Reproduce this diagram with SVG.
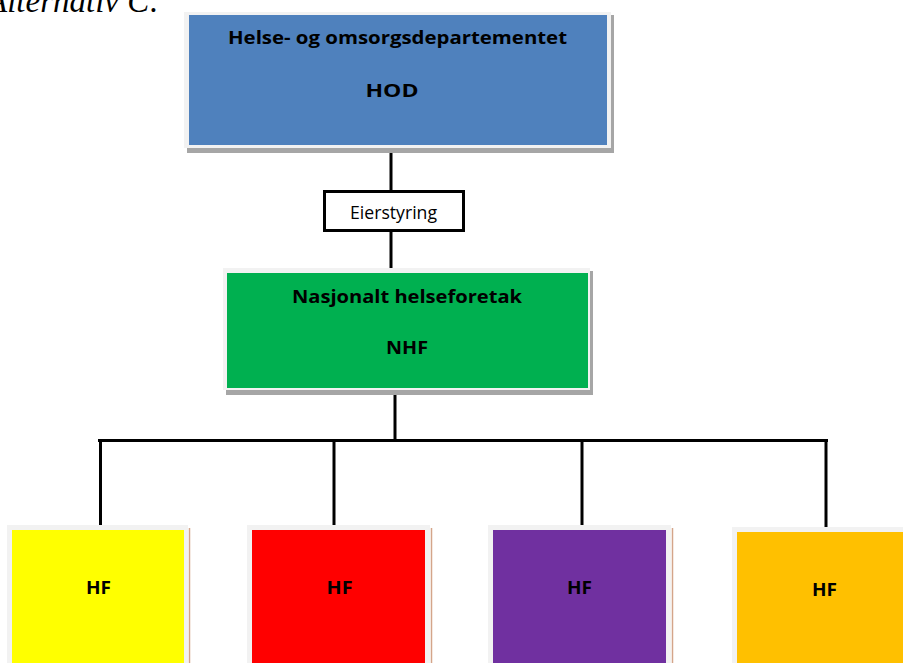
<svg xmlns="http://www.w3.org/2000/svg" width="903" height="663" viewBox="0 0 903 663">
<style>
.frame{fill:#F2F2F2}
.shadow{fill:#A6A6A6}
.tan{stroke:#D4A58A;stroke-width:1.5}
.h{font-family:"Open Sans","Liberation Sans",sans-serif;font-weight:bold;font-size:18px;fill:#000;text-anchor:middle}
.n{font-family:"Open Sans","Liberation Sans",sans-serif;font-size:17.5px;fill:#000;text-anchor:middle}
.c{stroke:#000;stroke-width:3;fill:none}
</style>
<rect width="903" height="663" fill="#fff"/>
<text x="-13" y="12" font-family="Liberation Serif,serif" font-style="italic" font-size="33" fill="#000">Alternativ C:</text>
<g id="connectors">
<line class="c" x1="391" y1="150" x2="391" y2="192"/>
<line class="c" x1="391" y1="231" x2="391" y2="270"/>
<line class="c" x1="395" y1="392" x2="395" y2="441"/>
<line class="c" x1="98" y1="440.5" x2="828" y2="440.5" stroke-width="3.5"/>
<line class="c" x1="100.5" y1="440" x2="100.5" y2="525"/>
<line class="c" x1="334" y1="440" x2="334" y2="525"/>
<line class="c" x1="582" y1="440" x2="582" y2="525"/>
<line class="c" x1="826" y1="440" x2="826" y2="527"/>
</g>
<g id="hod">
<rect class="shadow" x="187" y="15" width="427" height="138"/>
<rect class="frame" x="184" y="12" width="427" height="136"/>
<rect x="189" y="15" width="418" height="130" fill="#4F81BD"/>
<text class="h" x="397.5" y="44" textLength="339" lengthAdjust="spacingAndGlyphs">Helse- og omsorgsdepartementet</text>
<text class="h" x="392" y="97" textLength="53" lengthAdjust="spacingAndGlyphs">HOD</text>
</g>
<g id="eierstyring">
<rect x="324.5" y="191.5" width="139" height="39" fill="#fff" stroke="#000" stroke-width="3"/>
<text class="n" x="393.5" y="219" textLength="87" lengthAdjust="spacingAndGlyphs">Eierstyring</text>
</g>
<g id="nhf">
<rect class="shadow" x="226" y="271" width="367" height="124"/>
<rect class="frame" x="223" y="268" width="367" height="122"/>
<rect x="227" y="273" width="361" height="115" fill="#00B050"/>
<text class="h" x="407" y="303" textLength="230" lengthAdjust="spacingAndGlyphs">Nasjonalt helseforetak</text>
<text class="h" x="407" y="354" textLength="42" lengthAdjust="spacingAndGlyphs">NHF</text>
</g>
<g id="hf1">
<rect class="frame" x="7" y="525" width="181" height="140"/>
<rect x="12" y="530" width="172" height="135" fill="#FFFF00"/>
<line class="tan" x1="189.5" y1="528" x2="189.5" y2="663"/>
<text class="h" x="98.5" y="594" textLength="25" lengthAdjust="spacingAndGlyphs">HF</text>
</g>
<g id="hf2">
<rect class="frame" x="247" y="525" width="183" height="140"/>
<rect x="252" y="530" width="173" height="135" fill="#FF0000"/>
<line class="tan" x1="431.5" y1="528" x2="431.5" y2="663"/>
<text class="h" x="339.5" y="594" textLength="26" lengthAdjust="spacingAndGlyphs">HF</text>
</g>
<g id="hf3">
<rect class="frame" x="488" y="525" width="183" height="140"/>
<rect x="493" y="530" width="173" height="135" fill="#7030A0"/>
<line class="tan" x1="672.5" y1="528" x2="672.5" y2="663"/>
<text class="h" x="579.5" y="594" textLength="25" lengthAdjust="spacingAndGlyphs">HF</text>
</g>
<g id="hf4">
<rect class="frame" x="732" y="527" width="175" height="140"/>
<rect x="737" y="532" width="170" height="135" fill="#FFC000"/>
<text class="h" x="824.5" y="596" textLength="25" lengthAdjust="spacingAndGlyphs">HF</text>
</g>
</svg>
